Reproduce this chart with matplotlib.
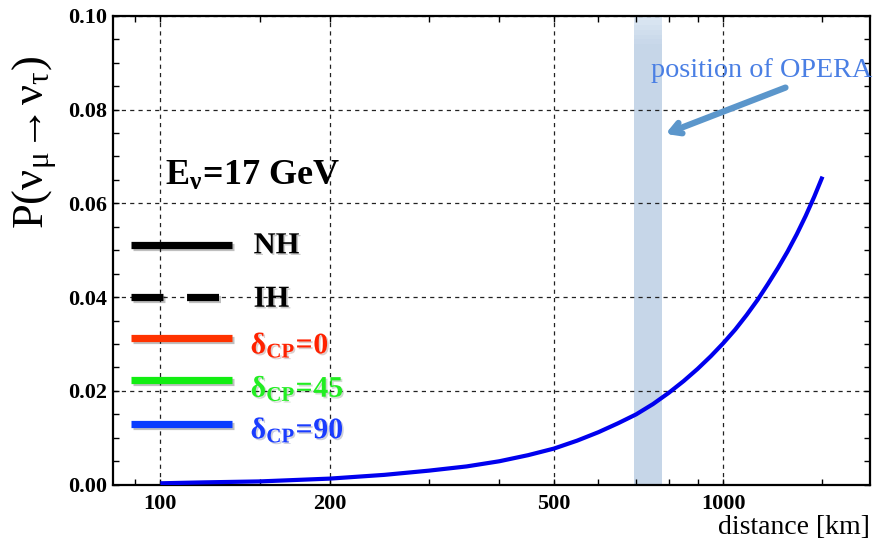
import matplotlib
matplotlib.use("Agg")
import matplotlib.pyplot as plt
import matplotlib.patheffects as pe
from matplotlib.ticker import FixedLocator, MultipleLocator, NullFormatter
from matplotlib.lines import Line2D

# probability curve (all hypotheses overlap)
distance_km = [100, 120, 150, 200, 250, 300, 350, 400, 450, 500, 550, 600, 650,
               700, 750, 800, 850, 900, 950, 1000, 1050, 1100, 1150, 1200, 1250,
               1300, 1350, 1400, 1450, 1500]
prob = [0.0003, 0.0005, 0.0007, 0.0013, 0.0021, 0.0030, 0.0039, 0.0050, 0.0063,
        0.0077, 0.0094, 0.0112, 0.0131, 0.0150, 0.0172, 0.0196, 0.0221, 0.0247,
        0.0274, 0.0302, 0.0331, 0.0362, 0.0394, 0.0428, 0.0462, 0.0497, 0.0534,
        0.0573, 0.0614, 0.0657]

opera_band = [694, 777]
x_major = [100, 200, 500, 1000]
x_minor = [90, 150, 300, 400, 600, 700, 800, 900, 1500]
y_ticks = [0.0, 0.02, 0.04, 0.06, 0.08, 0.10]

legend_labels = ["NH", "IH", r"$\mathbf{δ_{CP}\!=\!0}$",
                 r"$\mathbf{δ_{CP}\!=\!45}$", r"$\mathbf{δ_{CP}\!=\!90}$"]
legend_text_colors = ["black", "black", "#ff2200", "#22ee22", "#1a3cff"]
legend_line_colors = ["black", "black", "#ff3300", "#11ee11", "#0a3cff"]

plt.rcParams['font.family'] = ['Liberation Serif', 'DejaVu Serif']
plt.rcParams['mathtext.fontset'] = 'custom'
plt.rcParams['mathtext.rm'] = 'Liberation Serif'
plt.rcParams['mathtext.it'] = 'Liberation Serif:italic'
plt.rcParams['mathtext.bf'] = 'Liberation Serif:bold'
plt.rcParams['lines.scale_dashes'] = False

fig = plt.figure(figsize=(8.76, 5.44), dpi=100)
ax = fig.add_axes([0.1287, 0.109, 0.8645, 0.862])

ax.set_xscale('log')
ax.set_xlim(82.3, 1822)
ax.set_ylim(0, 0.10)

# OPERA band, fading out a little at the top
ax.axvspan(opera_band[0], opera_band[1], ymax=0.94, color='#c6d6e8', lw=0,
           zorder=1)
fade = ['#c9d8ea', '#ccdbeb', '#d0deed', '#d4e1ef', '#d8e4f1', '#dce7f3']
for k, c in enumerate(fade):
    ax.axvspan(opera_band[0], opera_band[1], ymin=0.94 + k * 0.01,
               ymax=0.95 + k * 0.01, color=c, lw=0, zorder=1)

ax.plot(distance_km, prob, color='#0000ee', lw=3, zorder=3,
        solid_capstyle='butt', solid_joinstyle='round')

# axis ticks
ax.xaxis.set_major_locator(FixedLocator(x_major))
ax.xaxis.set_minor_locator(FixedLocator(x_minor))
ax.xaxis.set_minor_formatter(NullFormatter())
ax.set_xticklabels([str(v) for v in x_major])
ax.set_yticks(y_ticks)
ax.set_yticklabels(["%.2f" % v for v in y_ticks])
ax.yaxis.set_minor_locator(MultipleLocator(0.005))
ax.tick_params(which='both', direction='in', top=True, right=True,
               length=4, width=1)
ax.tick_params(axis='x', which='major', pad=7)
ax.tick_params(axis='y', which='major', pad=4)
for lab in ax.get_xticklabels() + ax.get_yticklabels():
    lab.set_fontweight('bold')
    lab.set_fontsize(16)

ax.grid(True, which='major', color='#222222', lw=0.9, ls=(0, (3, 3)))
for sp in ax.spines.values():
    sp.set_linewidth(1.6)

ax.set_ylabel(r'$\mathrm{P(ν_{μ}\!\rightarrow\!ν_{τ})}$', fontsize=32,
              va='center')
ax.yaxis.set_label_coords(-0.103, 0.731)
ax.set_xlabel('distance [km]', fontsize=20, ha='right', va='center')
ax.xaxis.set_label_coords(1.0, -0.092)

# OPERA marker
ax.text(0.711, 0.869, 'position of OPERA', transform=ax.transAxes,
        fontsize=20.3, color='#4a7fe4', va='baseline', clip_on=False)
ax.annotate('', xy=(781, 0.0746), xytext=(1303, 0.0849),
            arrowprops=dict(arrowstyle='->, head_length=0.7, head_width=0.4',
                            color='#5b96cb', lw=4.5))

# energy label and hand-made legend
ax.text(0.069, 0.639, r'$\mathbf{E_{ν}\!=\!17\ GeV}$', transform=ax.transAxes,
        fontsize=26, va='baseline')

shadow_line = [pe.SimpleLineShadow(offset=(1.5, -1.5), alpha=0.25), pe.Normal()]
shadow_text = [pe.withSimplePatchShadow(offset=(1.2, -1.2), alpha=0.2)]
line_y = [0.5111, 0.3996, 0.3122, 0.2232, 0.1294]
text_y = [0.4934, 0.3795, 0.280, 0.1876, 0.099]
for i, lab in enumerate(legend_labels):
    ls = (0, (23, 17)) if lab == "IH" else '-'
    ln = Line2D([0.0242, 0.1575], [line_y[i], line_y[i]], transform=ax.transAxes,
                color=legend_line_colors[i], lw=5.2, ls=ls,
                solid_capstyle='butt', dash_capstyle='butt',
                path_effects=shadow_line, zorder=4)
    ax.add_line(ln)
    if lab in ("NH", "IH"):
        ax.text(0.186, text_y[i], lab, transform=ax.transAxes, fontsize=22,
                fontweight='bold', color=legend_text_colors[i],
                va='baseline', path_effects=shadow_text)
    else:
        ax.text(0.182, text_y[i], lab, transform=ax.transAxes, fontsize=21.5,
                color=legend_text_colors[i], va='baseline',
                path_effects=shadow_text)

fig.savefig('out.png', dpi=100)
